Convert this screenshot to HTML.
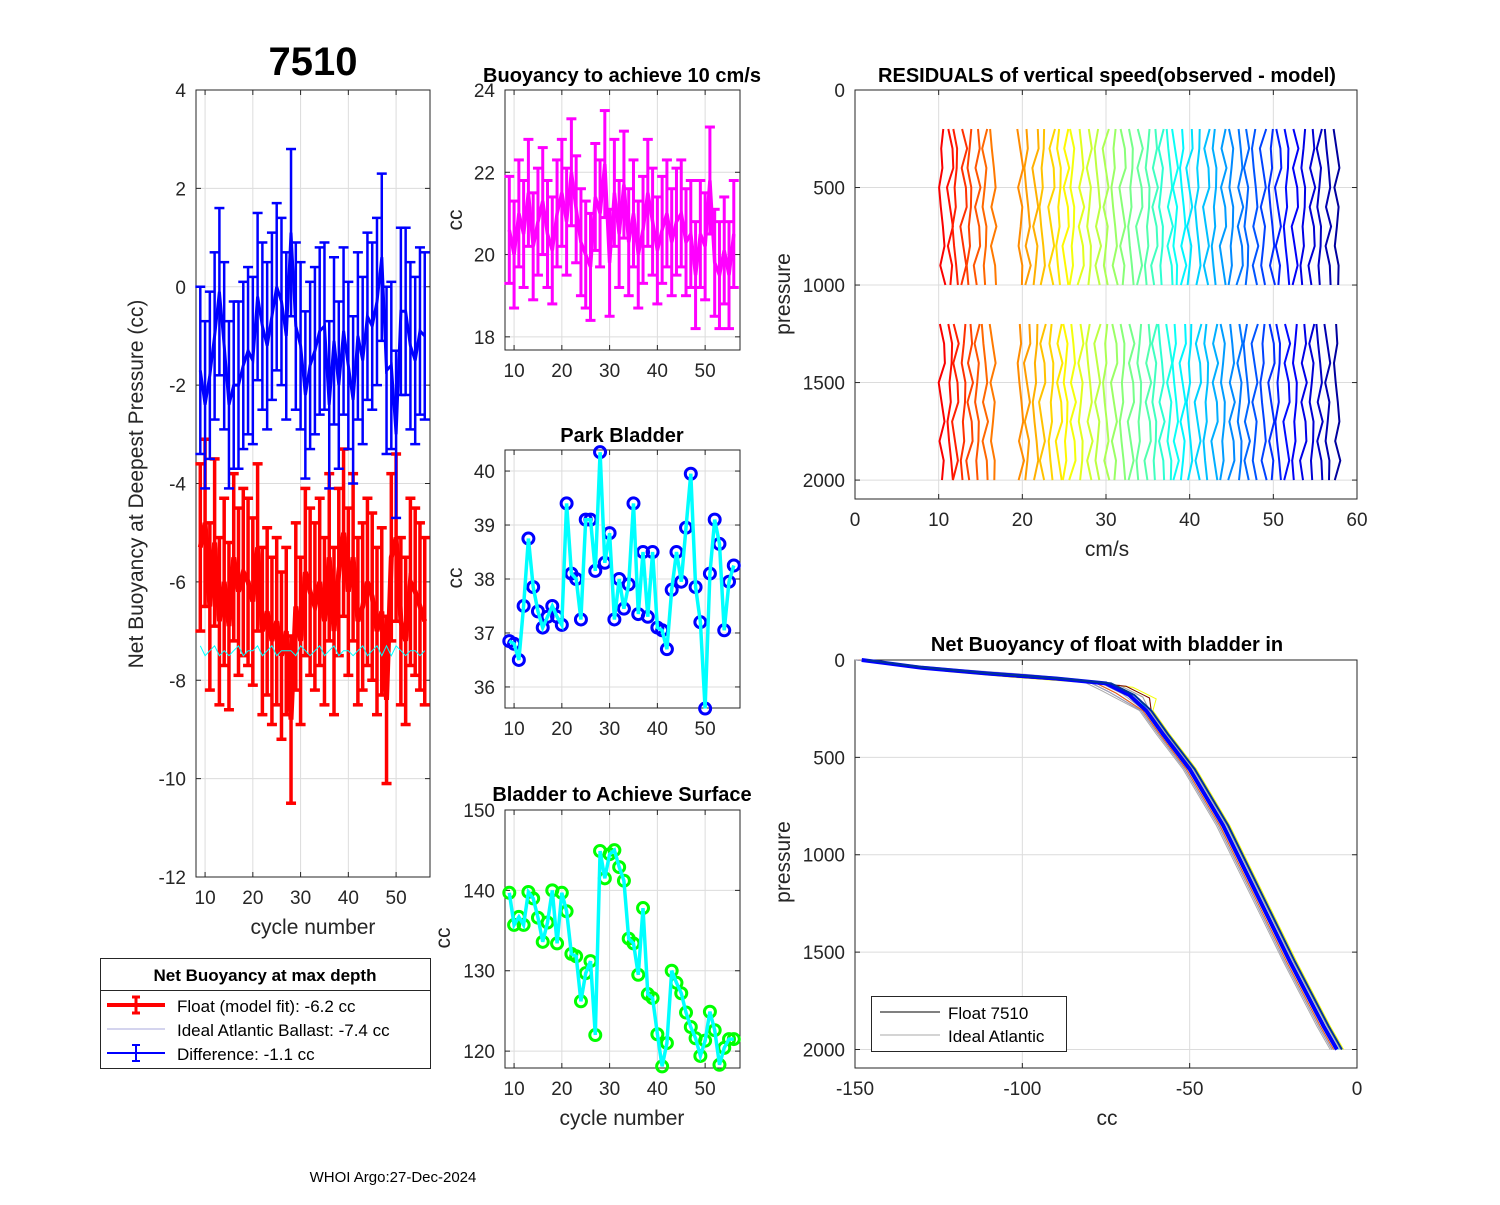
<!DOCTYPE html>
<html><head><meta charset="utf-8"><style>
body{margin:0;background:#fff;}
svg{font-family:"Liberation Sans",Arial,sans-serif;}
</style></head><body>
<svg id="fig" width="1500" height="1200" viewBox="0 0 1500 1200" xmlns="http://www.w3.org/2000/svg">
<rect width="1500" height="1200" fill="#fff"/>
</svg>
<script>
const cycles=[9,10,11,12,13,14,15,16,17,18,19,20,21,22,23,24,25,26,27,28,29,30,31,32,33,34,35,36,37,38,39,40,41,42,43,44,45,46,47,48,49,50,51,52,53,54,55,56];
const floatFit=[-5.3,-4.8,-6.5,-5.2,-6.8,-6.0,-6.9,-5.5,-6.2,-5.8,-6.0,-6.4,-5.3,-7.0,-6.6,-7.2,-6.8,-7.5,-7.0,-8.8,-6.5,-7.2,-5.8,-6.2,-6.5,-6.0,-6.8,-5.5,-7.0,-5.8,-5.0,-6.2,-5.5,-6.8,-6.5,-6.0,-6.3,-7.0,-6.6,-8.4,-5.5,-5.1,-6.8,-7.2,-6.0,-6.2,-6.5,-6.8];
const difference=[-1.7,-2.4,-1.8,-1.0,-0.1,-1.2,-2.4,-2.0,-2.0,-1.6,-1.3,-1.5,-0.2,-0.8,-1.2,-0.6,0.0,-0.3,-1.0,1.1,-0.8,-1.2,-2.2,-1.6,-1.3,-0.9,-0.8,-2.4,-1.1,-2.0,-0.9,-1.6,-2.3,-1.0,-1.5,-0.6,-0.8,-0.3,0.6,-1.7,-1.6,-3.0,-0.5,-0.5,-1.2,-1.5,-0.9,-1.0];
const idealBallast=[-7.3,-7.5,-7.4,-7.3,-7.5,-7.4,-7.5,-7.4,-7.3,-7.5,-7.4,-7.4,-7.3,-7.5,-7.4,-7.3,-7.5,-7.4,-7.4,-7.4,-7.5,-7.3,-7.4,-7.5,-7.4,-7.3,-7.5,-7.4,-7.3,-7.5,-7.4,-7.4,-7.5,-7.4,-7.3,-7.5,-7.4,-7.3,-7.5,-7.3,-7.5,-7.3,-7.4,-7.5,-7.4,-7.4,-7.5,-7.4];
const buoy10=[20.6,20.0,21.0,20.5,21.5,20.2,20.8,21.3,20.5,20.1,21.0,21.5,20.8,22.0,21.1,20.3,20.0,19.7,21.4,21.0,22.2,19.8,21.5,20.5,21.7,20.3,21.0,20.0,20.6,21.5,20.8,20.1,20.6,21.0,20.3,20.8,21.0,20.3,20.5,19.5,20.5,20.2,21.8,19.8,19.5,20.1,19.5,20.5];
const parkBladder=[36.85,36.8,36.5,37.5,38.75,37.85,37.4,37.1,37.3,37.5,37.3,37.15,39.4,38.1,38.0,37.25,39.1,39.1,38.15,40.35,38.3,38.85,37.25,38.0,37.45,37.9,39.4,37.35,38.5,37.3,38.5,37.1,37.05,36.7,37.8,38.5,37.95,38.95,39.95,37.85,37.2,35.6,38.1,39.1,38.65,37.05,37.95,38.25];
const surfBladder=[139.7,135.7,136.7,135.7,139.8,139,136.6,133.6,136,140,133.4,139.7,137.4,132.1,131.8,126.2,129.7,131.2,122,144.9,141.5,144.5,145,142.9,141.2,134,133.4,129.5,137.8,127.1,126.6,122.1,118.1,121,130,128.5,127.2,124.8,123,121.6,119.4,121.3,124.9,122.6,118.3,120.4,121.5,121.5];
const residOffsets=[10.4,11.4,12.0,13.0,13.7,14.6,15.5,16.5,19.8,20.6,21.6,22.4,23.5,24.4,25.2,26.0,27.0,28.0,29.0,30.0,31.0,32.0,33.0,34.0,35.0,35.8,36.6,37.6,38.3,39.2,40.0,41.0,42.0,43.0,44.0,45.0,46.0,46.8,47.8,48.8,49.8,50.6,51.6,52.6,53.6,54.6,55.5,56.5,57.6];
const residWiggle=[0.15,-0.2,0.3,-0.1,0.4,-0.3,0.05,-0.25,0.2,-0.35,0.25,0.0,-0.15,0.35,-0.25,0.1,-0.4,0.2,0.3,-0.05];
const residPressure=[200,300,400,500,600,700,800,900,1000,1200,1300,1400,1500,1600,1700,1800,1900,2000];
const profCC=[-148,-130,-110,-90,-75,-68,-63,-58,-50,-40,-30,-20,-10,-6];
const profP=[0,40,70,95,120,180,260,380,560,850,1200,1550,1880,2000];
const profShift=[-4,-3,-2,-1,0,1,2,3,4,2,-2,0,-3,3];

const svg=document.getElementById('fig');
const NS='http://www.w3.org/2000/svg';
function el(tag,attrs,parent){const e=document.createElementNS(NS,tag);for(const k in attrs)e.setAttribute(k,attrs[k]);(parent||svg).appendChild(e);return e;}
function txt(s,x,y,size,opts,parent){opts=opts||{};const t=el('text',{x:x,y:y,'font-size':size,'text-anchor':opts.anchor||'middle',fill:opts.fill||'#262626','font-weight':opts.bold?'bold':'normal'},parent);if(opts.rot)t.setAttribute('transform','rotate(-90 '+x+' '+y+')');t.textContent=s;return t;}
function jet(f){const r=Math.min(1,Math.max(0,1.5-Math.abs(4*f-3))),g=Math.min(1,Math.max(0,1.5-Math.abs(4*f-2))),b=Math.min(1,Math.max(0,1.5-Math.abs(4*f-1)));return 'rgb('+Math.round(r*255)+','+Math.round(g*255)+','+Math.round(b*255)+')';}
function axes(name,px0,px1,py0,py1,xl,yl,xt,yt,yrev){
  const g=el('g',{},svg);
  
  
  const sx=v=>px0+(v-xl[0])/(xl[1]-xl[0])*(px1-px0);
  const sy=yrev?(v=>py0+(v-yl[0])/(yl[1]-yl[0])*(py1-py0)):(v=>py1-(v-yl[0])/(yl[1]-yl[0])*(py1-py0));
  xt.forEach(v=>{el('line',{x1:sx(v),x2:sx(v),y1:py0,y2:py1,stroke:'#dcdcdc','stroke-width':1},g);});
  yt.forEach(v=>{el('line',{x1:px0,x2:px1,y1:sy(v),y2:sy(v),stroke:'#dcdcdc','stroke-width':1},g);});
  el('rect',{x:px0,y:py0,width:px1-px0,height:py1-py0,fill:'none',stroke:'#262626','stroke-width':1},g);
  xt.forEach(v=>{const x=sx(v);el('line',{x1:x,x2:x,y1:py1,y2:py1-5,stroke:'#262626'},g);el('line',{x1:x,x2:x,y1:py0,y2:py0+5,stroke:'#262626'},g);const t=txt(String(v),x,py1+27,19,{},g);});
  yt.forEach(v=>{const y=sy(v);el('line',{x1:px0,x2:px0+5,y1:y,y2:y,stroke:'#262626'},g);el('line',{x1:px1,x2:px1-5,y1:y,y2:y,stroke:'#262626'},g);const t=txt(String(v),px0-10,y+7,19,{anchor:'end'},g);});
  return {sx,sy,g};
}
function poly(pts,attrs,parent){return el('polyline',Object.assign({points:pts.map(p=>p[0].toFixed(1)+','+p[1].toFixed(1)).join(' '),fill:'none'},attrs),parent);}
function errbars(a,xs,ys,err,color,w,parent){xs.forEach((c,i)=>{const x=a.sx(c),yt=a.sy(ys[i]+err),yb=a.sy(ys[i]-err);el('line',{x1:x,x2:x,y1:yt,y2:yb,stroke:color,'stroke-width':w},parent);el('line',{x1:x-5,x2:x+5,y1:yt,y2:yt,stroke:color,'stroke-width':w},parent);el('line',{x1:x-5,x2:x+5,y1:yb,y2:yb,stroke:color,'stroke-width':w},parent);});}

// Panel 1
const a1=axes('net-buoyancy-axes',196,430,90,877,[8.1,57.1],[-12,4],[10,20,30,40,50],[-12,-10,-8,-6,-4,-2,0,2,4]);
const gRed=el('g',{},a1.g);
errbars(a1,cycles,floatFit,1.7,'#ff0000',3.5,gRed);
poly(cycles.map((c,i)=>[a1.sx(c),a1.sy(floatFit[i])]),{stroke:'#ff0000','stroke-width':5},gRed);
const gCy=poly(cycles.map((c,i)=>[a1.sx(c),a1.sy(idealBallast[i])]),{stroke:'#00ffff','stroke-width':1},a1.g);

const gBlue=el('g',{},a1.g);
errbars(a1,cycles,difference,1.7,'#0000ff',2.5,gBlue);
poly(cycles.map((c,i)=>[a1.sx(c),a1.sy(difference[i])]),{stroke:'#0000ff','stroke-width':3},gBlue);
txt('7510',313,75,40,{bold:true,fill:'#000'});
txt('Net Buoyancy at Deepest Pressure (cc)',143,484,21,{rot:true});
txt('cycle number',313,934,21);

// Legend 1
const lg=el('g',{},svg);
el('rect',{x:100.5,y:958.5,width:330,height:110,fill:'#fff',stroke:'#262626'},lg);
el('line',{x1:100,x2:430,y1:990.5,y2:990.5,stroke:'#262626'},lg);
txt('Net Buoyancy at max depth',265,981,17,{bold:true,fill:'#000'},lg);
el('line',{x1:107,x2:165,y1:1005,y2:1005,stroke:'#f00','stroke-width':4},lg);
el('line',{x1:136,x2:136,y1:997,y2:1013,stroke:'#f00','stroke-width':3},lg);
el('line',{x1:132,x2:140,y1:997,y2:997,stroke:'#f00','stroke-width':3},lg);el('line',{x1:132,x2:140,y1:1013,y2:1013,stroke:'#f00','stroke-width':3},lg);
txt('Float (model fit):  -6.2 cc',177,1012,17,{anchor:'start',fill:'#000'},lg);
el('line',{x1:107,x2:165,y1:1029,y2:1029,stroke:'#aad','stroke-width':1},lg);
txt('Ideal Atlantic Ballast:  -7.4 cc',177,1036,17,{anchor:'start',fill:'#000'},lg);
el('line',{x1:107,x2:165,y1:1053,y2:1053,stroke:'#00f','stroke-width':2},lg);
el('line',{x1:136,x2:136,y1:1045,y2:1061,stroke:'#00f','stroke-width':2},lg);
el('line',{x1:132,x2:140,y1:1045,y2:1045,stroke:'#00f','stroke-width':2},lg);el('line',{x1:132,x2:140,y1:1061,y2:1061,stroke:'#00f','stroke-width':2},lg);
txt('Difference:  -1.1 cc',177,1060,17,{anchor:'start',fill:'#000'},lg);

// Panel 2
const a2=axes('buoyancy-10cms-axes',505,740,90,350,[8.1,57.3],[17.68,24],[10,20,30,40,50],[18,20,22,24]);
const g2=el('g',{},a2.g);
errbars(a2,cycles,buoy10,1.3,'#ff00ff',3,g2);
poly(cycles.map((c,i)=>[a2.sx(c),a2.sy(buoy10[i])]),{stroke:'#ff00ff','stroke-width':3.5},g2);
txt('Buoyancy to achieve 10 cm/s',622,82,20,{bold:true,fill:'#000'});
txt('cc',462,220,21,{rot:true});

// Panel 3
const a3=axes('park-bladder-axes',505,740,450,708,[8.1,57.3],[35.61,40.39],[10,20,30,40,50],[36,37,38,39,40]);
const g3=el('g',{},a3.g);
cycles.forEach((c,i)=>el('circle',{cx:a3.sx(c),cy:a3.sy(parkBladder[i]),r:5.5,fill:'none',stroke:'#0000ff','stroke-width':3},g3));
poly(cycles.map((c,i)=>[a3.sx(c),a3.sy(parkBladder[i])]),{stroke:'#00ffff','stroke-width':3.5},g3);
txt('Park Bladder',622,442,20,{bold:true,fill:'#000'});
txt('cc',462,578,21,{rot:true});

// Panel 4
const a4=axes('surface-bladder-axes',505,740,810,1068,[8.1,57.3],[117.9,150],[10,20,30,40,50],[120,130,140,150]);
const g4=el('g',{},a4.g);
cycles.forEach((c,i)=>el('circle',{cx:a4.sx(c),cy:a4.sy(surfBladder[i]),r:5.5,fill:'none',stroke:'#00ff00','stroke-width':3},g4));
poly(cycles.map((c,i)=>[a4.sx(c),a4.sy(surfBladder[i])]),{stroke:'#00ffff','stroke-width':3.5},g4);
txt('Bladder to Achieve Surface',622,801,20,{bold:true,fill:'#000'});
txt('cc',450,938,21,{rot:true});
txt('cycle number',622,1125,21);

// Panel 5
const a5=axes('residuals-axes',855,1357,90,499,[0,60],[0,2097],[0,10,20,30,40,50,60],[0,500,1000,1500,2000],true);
const g5=el('g',{},a5.g);
residOffsets.forEach((o,k)=>{const col=jet(0.88-0.85*k/(residOffsets.length-1));
  const seg1=[],seg2=[];
  residPressure.forEach((p,j)=>{const w=residWiggle[(j*3+k*7)%residWiggle.length];const pt=[a5.sx(o+w),a5.sy(p)];(p<=1000?seg1:seg2).push(pt);});
  poly(seg1,{stroke:col,'stroke-width':2},g5);poly(seg2,{stroke:col,'stroke-width':2},g5);});
txt('RESIDUALS of vertical speed(observed - model)',1107,82,20,{bold:true,fill:'#000'});
txt('pressure',790,294,21,{rot:true});
txt('cm/s',1107,556,21);

// Panel 6
const a6=axes('net-buoyancy-profile-axes',855,1357,660,1068,[-150,0],[0,2095],[-150,-100,-50,0],[0,500,1000,1500,2000],true);
const g6=el('g',{},a6.g);
profShift.forEach((s,k)=>{poly(profCC.map((c,i)=>{const wgt=(i>=1&&i<=5)?1:0.25;return [a6.sx(c+s*2*wgt),a6.sy(Math.max(0,profP[i]+s*5*((i>=1&&i<=5)?1:0)))];}),{stroke:k%3==0?'#aaa':jet(k/(profShift.length-1)),'stroke-width':1},g6);});
poly(profCC.map((c,i)=>[a6.sx(c),a6.sy(profP[i])]),{stroke:'#0000ff','stroke-width':4},g6);
poly(profCC.map((c,i)=>[a6.sx(c+1.5),a6.sy(profP[i])]),{stroke:'#003399','stroke-width':2},g6);
txt('Net Buoyancy of float with bladder in',1107,651,20,{bold:true,fill:'#000'});
txt('pressure',790,862,21,{rot:true});
txt('cc',1107,1125,21);
const lg2=el('g',{},svg);
el('rect',{x:871.5,y:996.5,width:195,height:55,fill:'#fff',stroke:'#262626'},lg2);
el('line',{x1:880,x2:940,y1:1012,y2:1012,stroke:'#000','stroke-width':1},lg2);
txt('Float 7510',948,1019,17,{anchor:'start',fill:'#000'},lg2);
el('line',{x1:880,x2:940,y1:1035,y2:1035,stroke:'#aaa','stroke-width':1},lg2);
txt('Ideal Atlantic',948,1042,17,{anchor:'start',fill:'#000'},lg2);

txt('WHOI Argo:27-Dec-2024',393,1182,15,{fill:'#000'});
</script>
</body></html>
